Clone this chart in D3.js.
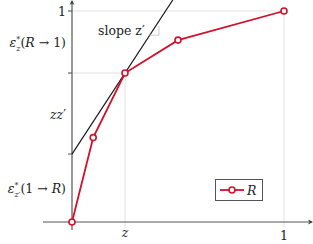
<!DOCTYPE html>
<html><head><meta charset="utf-8">
<script src="https://cdn.jsdelivr.net/npm/d3@7"></script>
<style>body{margin:0;background:#fff}svg{display:block}svg text{font-family:"DejaVu Serif",serif}</style>
</head><body><svg id="c" width="313" height="244"></svg>
<script>
const seriesName = "R";
const xValues = [0, 0.1, 0.25, 0.5, 1];
const yValues = [0, 0.4, 0.706, 0.862, 1];
const zValue = 0.25;
const zPrime = 1.536;
const intercept = 0.322;
const yTickValues = [intercept, 0.706, 1];
const xTickLabels = [{v: 0.25, t: "z", it: true}, {v: 1, t: "1", it: false}];

const svg = d3.select("#c");
const x = d3.scaleLinear().domain([0, 1]).range([72, 284]);
const y = d3.scaleLinear().domain([0, 1]).range([222, 11]);
const red = "#d1102c";
const fs = 12.5;

// projection gridlines
const grid = svg.append("g").attr("stroke", "#e2e2e2").attr("stroke-width", 1);
grid.append("line").attr("x1", x(0) - 4).attr("x2", x(1)).attr("y1", y(1)).attr("y2", y(1));
grid.append("line").attr("x1", x(1)).attr("x2", x(1)).attr("y1", y(1)).attr("y2", y(0) + 6);
grid.append("line").attr("x1", x(0) - 4).attr("x2", x(zValue)).attr("y1", y(0.706)).attr("y2", y(0.706));
grid.append("line").attr("x1", x(zValue)).attr("x2", x(zValue)).attr("y1", y(0.706)).attr("y2", y(0) + 6);

// axes
const ax = svg.append("g").attr("stroke", "#555").attr("stroke-width", 1.2);
ax.append("line").attr("x1", 43).attr("x2", 309).attr("y1", y(0)).attr("y2", y(0));
ax.append("line").attr("x1", x(0)).attr("x2", x(0)).attr("y1", y(0) + 8).attr("y2", 4);
svg.append("path").attr("d", `M313,${y(0)} l-5,-2.5 l1.5,2.5 l-1.5,2.5 z`).attr("fill", "#333");
svg.append("path").attr("d", `M${x(0)},0 l-2.5,5 l2.5,-1.5 l2.5,1.5 z`).attr("fill", "#333");
svg.append("g").selectAll("line").data(yTickValues).join("line")
  .attr("x1", x(0) - 4).attr("x2", x(0)).attr("y1", d => y(d)).attr("y2", d => y(d))
  .attr("stroke", "#555").attr("stroke-width", 1);

// tangent line
const xTop = (y.invert(0) - intercept) / zPrime;
svg.append("line").attr("x1", x(0)).attr("y1", y(intercept)).attr("x2", x(xTop)).attr("y2", y(intercept + zPrime * xTop))
  .attr("stroke", "#1a1a1a").attr("stroke-width", 1.2);

// slope marker
const yLow = 0.885, yHigh = 0.93;
const xLow = (yLow - intercept) / zPrime;
svg.append("path").attr("d", `M${x(xLow)},${y(yLow)} L${x(0.41)},${y(yLow)} L${x(0.41)},${y(yHigh)}`)
  .attr("fill", "none").attr("stroke", "#ccc").attr("stroke-width", 1);
svg.append("text").attr("x", 98).attr("y", 35).attr("font-size", fs).attr("fill", "#222").text("slope z\u2032");

// series
const pts = xValues.map((v, i) => [v, yValues[i]]);
svg.append("path").datum(pts).attr("d", d3.line().x(d => x(d[0])).y(d => y(d[1])))
  .attr("fill", "none").attr("stroke", red).attr("stroke-width", 1.8);
svg.append("g").selectAll("circle").data(pts).join("circle")
  .attr("cx", d => x(d[0])).attr("cy", d => y(d[1])).attr("r", 3)
  .attr("fill", "#fff").attr("stroke", red).attr("stroke-width", 1.6);

// y labels
const lab = svg.append("g").attr("font-size", fs).attr("text-anchor", "end").attr("fill", "#222");
lab.append("text").attr("x", 66).attr("y", y(1) + 5).text("1");
const t1 = lab.append("text").attr("x", 66).attr("y", (y(1) + y(0.706)) / 2 + 5);
t1.append("tspan").attr("font-style", "italic").text("\u03b5");
t1.append("tspan").attr("font-size", 8).attr("dy", -5).text("*");
t1.append("tspan").attr("font-size", 8).attr("font-style", "italic").attr("dx", -4).attr("dy", 9).text("z");
t1.append("tspan").attr("dy", -4).text("(");
t1.append("tspan").attr("font-style", "italic").text("R");
t1.append("tspan").text(" \u2192 1)");
const t2 = lab.append("text").attr("x", 66).attr("y", (y(0.706) + y(intercept)) / 2 + 5).attr("font-style", "italic");
t2.append("tspan").text("zz");
t2.append("tspan").attr("font-style", "normal").text("\u2032");
const t3 = lab.append("text").attr("x", 66).attr("y", (y(intercept) + y(0)) / 2 + 5);
t3.append("tspan").attr("font-style", "italic").text("\u03b5");
t3.append("tspan").attr("font-size", 8).attr("dy", -5).text("*");
t3.append("tspan").attr("font-size", 8).attr("font-style", "italic").attr("dx", -4).attr("dy", 9).text("z\u2032");
t3.append("tspan").attr("dy", -4).text("(1 \u2192 ");
t3.append("tspan").attr("font-style", "italic").text("R");
t3.append("tspan").text(")");

// x labels
svg.append("g").selectAll("text").data(xTickLabels).join("text")
  .attr("x", d => x(d.v)).attr("y", d => d.it ? 237 : 240).attr("text-anchor", "middle").attr("font-size", fs)
  .attr("fill", "#222").attr("font-style", d => d.it ? "italic" : "normal").text(d => d.t);

// legend
const lg = svg.append("g");
lg.append("rect").attr("x", 215.5).attr("y", 179.5).attr("width", 47).attr("height", 21)
  .attr("fill", "#fff").attr("stroke", "#555").attr("stroke-width", 1);
lg.append("line").attr("x1", 220).attr("x2", 244).attr("y1", 190).attr("y2", 190).attr("stroke", red).attr("stroke-width", 1.8);
lg.append("circle").attr("cx", 232).attr("cy", 190).attr("r", 3).attr("fill", "#fff").attr("stroke", red).attr("stroke-width", 1.6);
lg.append("text").attr("x", 247).attr("y", 195).attr("font-size", fs).attr("fill", "#222").attr("font-style", "italic").text(seriesName);
</script></body></html>
